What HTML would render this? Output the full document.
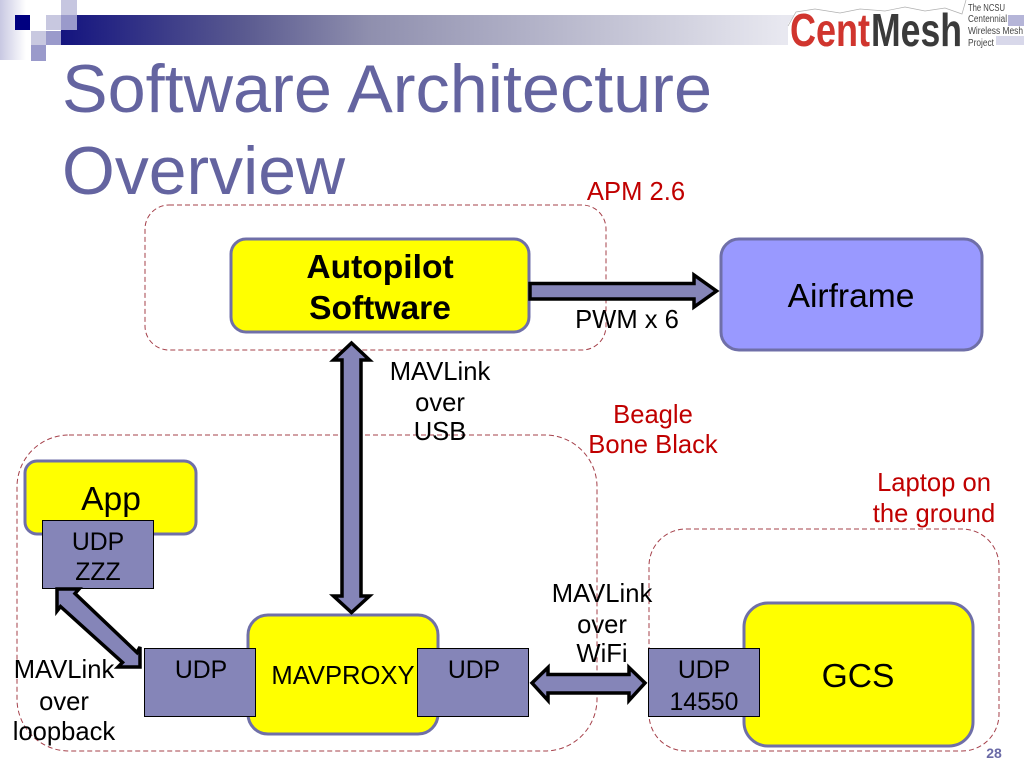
<!DOCTYPE html>
<html><head><meta charset="utf-8"><style>
html,body{margin:0;padding:0;background:#fff;width:1024px;height:768px;overflow:hidden}
svg{display:block}
text{font-family:"Liberation Sans",sans-serif;fill:#000}
</style></head><body>
<svg width="1024" height="768" viewBox="0 0 1024 768" xmlns="http://www.w3.org/2000/svg">
<defs>
<linearGradient id="bar" x1="0" x2="1" y1="0" y2="0"><stop offset="0" stop-color="#14147f"/><stop offset="0.19" stop-color="#5a5a90"/><stop offset="0.32" stop-color="#8f8fae"/><stop offset="0.635" stop-color="#d0d0de"/><stop offset="0.75" stop-color="#e8e8f0"/><stop offset="1" stop-color="#f2f2f8"/></linearGradient>
<linearGradient id="lft" x1="0" x2="1" y1="0" y2="0"><stop offset="0" stop-color="#c8c8e2"/><stop offset="1" stop-color="#ffffff"/></linearGradient>
</defs>
<rect x="0" y="0" width="26" height="60" fill="url(#lft)"/>
<rect x="61" y="15" width="963" height="30" fill="url(#bar)"/>
<rect x="1008" y="15" width="16" height="11" fill="#b5b5d8"/>
<rect x="996" y="36" width="28" height="9" fill="#d8d8ea"/>
<rect x="61" y="0" width="16" height="15" fill="#c6c6e0"/>
<rect x="30" y="15" width="16" height="16" fill="#fff"/>
<rect x="15" y="15" width="15" height="15" fill="#000080"/>
<rect x="46" y="15" width="15" height="15" fill="#c8c8e0"/>
<rect x="61" y="15" width="16" height="15" fill="#9a9acb"/>
<rect x="31" y="31" width="15" height="14" fill="#c8c8e0"/>
<rect x="46" y="31" width="15" height="14" fill="#9a9acb"/>
<rect x="31" y="45" width="15" height="16" fill="#9a9acb"/>
<path d="M788 50 L788 24 L796 12 L815 9 L840 13 L860 9 L885 11 L905 7 L925 11 L945 8 L962 14 L966 0 L1000 0 L1000 15 L1008 15 L1008 26 L1024 26 L1024 36 L996 36 L996 52 Z" fill="#fff"/>
<path d="M788 26 L796 12 L815 9 L840 13 L860 9 L885 11 L905 7 L925 11 L945 8 L962 14 L966 0" fill="none" stroke="#b0b0b0" stroke-width="0.7"/>
<text x="790" y="46" font-size="46" font-weight="bold" textLength="80" lengthAdjust="spacingAndGlyphs" style="fill:#d0352e">Cent</text>
<text x="871" y="46" font-size="46" font-weight="bold" textLength="91" lengthAdjust="spacingAndGlyphs" style="fill:#3a3a3a">Mesh</text>
<g font-size="10">
<text x="968" y="11" textLength="37" lengthAdjust="spacingAndGlyphs" style="fill:#444">The NCSU</text>
<text x="968" y="22" textLength="39" lengthAdjust="spacingAndGlyphs" style="fill:#444">Centennial</text>
<text x="968" y="34" textLength="55" lengthAdjust="spacingAndGlyphs" style="fill:#444">Wireless Mesh</text>
<text x="968" y="46" textLength="26" lengthAdjust="spacingAndGlyphs" style="fill:#444">Project</text>
</g>
<text x="62" y="112" font-size="68" textLength="650" lengthAdjust="spacingAndGlyphs" style="fill:#6464a0">Software Architecture</text>
<text x="62" y="194" font-size="68" textLength="283" lengthAdjust="spacingAndGlyphs" style="fill:#6464a0">Overview</text>
<g fill="none" stroke="#a5404a" stroke-width="1" stroke-dasharray="5 3">
<rect x="145" y="205" width="461" height="145" rx="24"/>
<rect x="17" y="435" width="580" height="316" rx="52"/>
<rect x="649" y="529" width="350" height="222" rx="37"/>
</g>
<g stroke="#6f6fa8" stroke-width="3">
<rect x="231" y="239" width="298" height="93" rx="15" fill="#ffff00"/>
<rect x="721" y="239" width="261" height="111" rx="18" fill="#9999ff"/>
<rect x="25" y="461" width="171" height="73" rx="12" fill="#ffff00"/>
<rect x="248" y="615" width="190" height="119" rx="20" fill="#ffff00"/>
<rect x="744" y="603" width="229" height="143" rx="24" fill="#ffff00"/>
</g>
<g fill="#8585b8" stroke="#000" stroke-width="1">
<rect x="42.500" y="520.500" width="111" height="68"/>
<rect x="144.500" y="648.500" width="111" height="68"/>
<rect x="417.500" y="648.500" width="111" height="68"/>
<rect x="648.500" y="648.500" width="111" height="68"/>
</g>
<g fill="#8585b8" stroke="#000" stroke-width="3.500" stroke-linejoin="miter" stroke-miterlimit="4">
<path d="M530 283.500 H694 V275 L716.500 291 L694 307 V299 H530 Z"/>
<path d="M351.500 343 L369.500 360 H361 V596 H369.500 L351.500 612.500 L333.500 596 H342 V360 H333.500 Z"/>
<path d="M532 683 L548 667.500 V674.500 H629 V667.500 L645 683 L629 700.500 V693 H548 V700.500 Z"/>
<path d="M57 589 L79 589 L75 593.500 L137 652.500 L140 647 L140 667 L118 667 L122.500 662.500 L60.500 606.500 L57 611 Z"/>
</g>
<g text-anchor="middle">
<text x="380" y="278" font-size="33.600" font-weight="bold">Autopilot</text>
<text x="380" y="319" font-size="33.600" font-weight="bold">Software</text>
<text x="851" y="307" font-size="33.600">Airframe</text>
<text x="111" y="510" font-size="33.600">App</text>
<text x="858" y="687" font-size="33.600">GCS</text>
<text x="343" y="684" font-size="25.600">MAVPROXY</text>
<g font-size="24.800">
<text x="98" y="550">UDP</text><text x="98" y="580">ZZZ</text>
<text x="201" y="678">UDP</text>
<text x="474" y="678">UDP</text>
<text x="704" y="678">UDP</text><text x="704" y="710">14550</text>
</g>
<g font-size="25.600">
<text x="627" y="328">PWM x 6</text>
<text x="440" y="380">MAVLink</text><text x="440" y="411">over</text><text x="440" y="440">USB</text>
<text x="602" y="602">MAVLink</text><text x="602" y="633">over</text><text x="602" y="662">WiFi</text>
<text x="64" y="678">MAVLink</text><text x="64" y="710">over</text><text x="64" y="740">loopback</text>
<text x="636" y="200" style="fill:#c00000">APM 2.6</text>
<text x="653" y="423" style="fill:#c00000">Beagle</text><text x="653" y="453" style="fill:#c00000">Bone Black</text>
<text x="934" y="491" style="fill:#c00000">Laptop on</text><text x="934" y="522" style="fill:#c00000">the ground</text>
</g>
</g>
<text x="994" y="758" font-size="14" font-weight="bold" text-anchor="middle" style="fill:#6a6aa6">28</text>
</svg>
</body></html>
